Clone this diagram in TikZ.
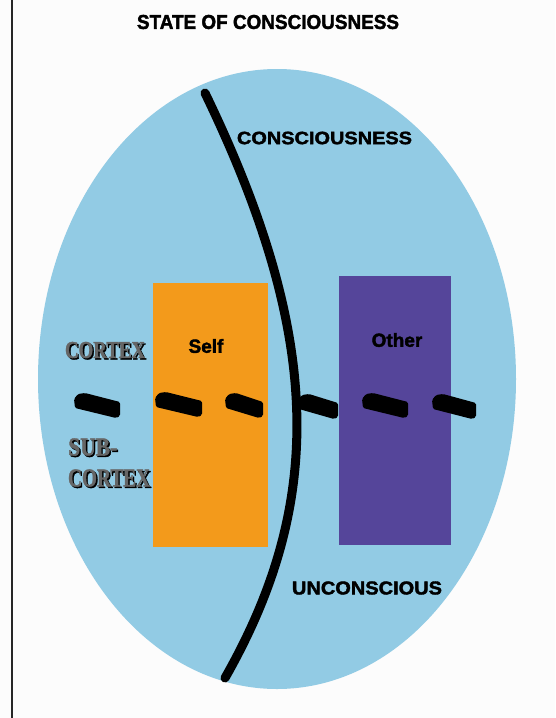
\documentclass[tikz,border=0pt]{standalone}
\usepackage{fontspec}
\setmainfont{Liberation Sans}
\newfontfamily\heavy[FakeBold=2]{Liberation Sans Bold}
\newfontfamily\decofont[FakeBold=1.5]{Liberation Serif Bold}
\usepackage{graphicx}
\definecolor{skyb}{HTML}{92CBE4}
\definecolor{selfor}{HTML}{F39A1B}
\definecolor{othpu}{HTML}{55459A}
\definecolor{bgw}{HTML}{FCFCFC}
\newcommand\slabshape[3]{\fill[black, rounded corners=1.5pt, shift={(#1,#2)}] (0,6) -- (4,1) -- (11,0) -- (#3,9) -- (#3,23) -- (#3-4,25) -- (1,15) -- cycle;}
\tikzset{
  lbl/.style={inner sep=0pt, outer sep=0pt, text=black},
  decoshadow/.style={inner sep=0pt, text=black},
  decoface/.style={inner sep=0pt, text=black!60},
}
\begin{document}
\begin{tikzpicture}[x=1pt,y=-1pt]
\useasboundingbox (0,0) rectangle (555,718);
\fill[bgw] (0,0) rectangle (555,718);
\draw[line width=2pt, black!85] (11.5,0) -- (11.5,718);
% ellipse
\fill[skyb] (277,379) ellipse [x radius=239pt, y radius=310pt];
% boxes
\fill[selfor] (153,283) rectangle (268,547);
\fill[othpu] (339,276) rectangle (451,545);
% curve
\draw[line width=9pt, line cap=round, black] (205,93) .. controls (324,339) and (324,504) .. (225,678);
% slabs
\slabshape{74}{393}{46}
\slabshape{155}{392}{47}
\slabshape{225}{393}{38}
\slabshape{298}{394}{40}
\slabshape{362}{393}{46}
\slabshape{432}{394}{44}
% texts
\node[lbl] (title) at (268,22) {\resizebox{262pt}{14pt}{\heavy STATE OF CONSCIOUSNESS}};
\node[lbl] (cons) at (324.5,138) {\resizebox{175pt}{12.5pt}{\heavy CONSCIOUSNESS}};
\node[lbl] (uncons) at (367,588) {\resizebox{150pt}{13pt}{\heavy UNCONSCIOUS}};
\node[lbl, font=\fontsize{19}{19}\selectfont\heavy] (self) at (206,346) {Self};
\node[lbl, font=\fontsize{19}{19}\selectfont\heavy] (other) at (397,340) {Other};
% decorative labels
\node[decoshadow] (cortexAs) at (106.5,351.5) {\resizebox{80pt}{16pt}{\decofont CORTEX}};
\node[decoface] (cortexA) at (105,350) {\resizebox{80pt}{16pt}{\decofont CORTEX}};
\node[decoshadow, anchor=west] (subs) at (69.5,448.5) {\resizebox{49pt}{17pt}{\decofont SUB-}};
\node[decoface, anchor=west] (sub) at (68,447) {\resizebox{49pt}{17pt}{\decofont SUB-}};
\node[decoshadow] (cortexBs) at (110.5,479.5) {\resizebox{82pt}{17pt}{\decofont CORTEX}};
\node[decoface] (cortexB) at (109,478) {\resizebox{82pt}{17pt}{\decofont CORTEX}};
\end{tikzpicture}
\end{document}
